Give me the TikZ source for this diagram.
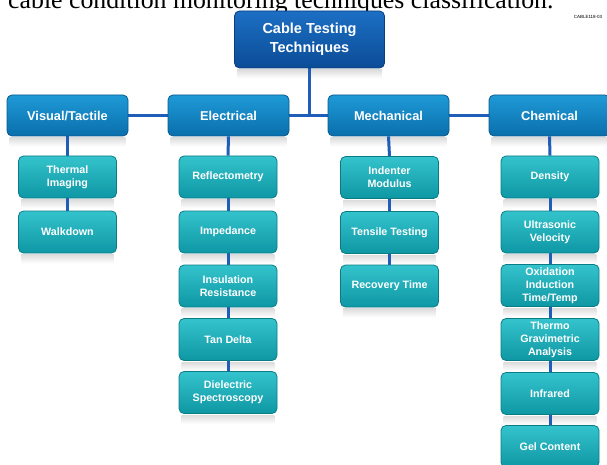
\documentclass[tikz,border=0pt]{standalone}
\usepackage{fontspec}
\setmainfont{Liberation Sans}
\newfontfamily\capfont{Liberation Serif}
\usetikzlibrary{backgrounds}
\definecolor{linkblue}{HTML}{1E5DB8}
\definecolor{topA}{HTML}{1C6FC4}
\definecolor{topB}{HTML}{0B4C96}
\definecolor{topD}{HTML}{0A3E7C}
\definecolor{catA}{HTML}{1E9AD6}
\definecolor{catB}{HTML}{0A6EAC}
\definecolor{catD}{HTML}{0A5A8C}
\definecolor{subA}{HTML}{34C3CC}
\definecolor{subB}{HTML}{0E97A4}
\definecolor{subD}{HTML}{0A7C86}
\begin{document}
\begin{tikzpicture}[x=1pt,y=-1pt,
  box/.style={rounded corners=5pt, line width=0.8pt, text=white, align=center, inner sep=0pt},
  topbox/.style={box, minimum width=150pt, minimum height=57pt, top color=topA, bottom color=topB, draw=topD, font=\fontsize{14.5}{18.5}\selectfont\bfseries},
  catbox/.style={box, minimum width=121pt, minimum height=41pt, top color=catA, bottom color=catB, draw=catD, font=\fontsize{12.8}{15}\selectfont\bfseries},
  subbox/.style={box, minimum width=98pt, minimum height=42pt, top color=subA, bottom color=subB, draw=subD, font=\fontsize{10.7}{12.8}\selectfont\bfseries},
  link/.style={draw=linkblue, line width=3pt},
  refl/.style={top color=black!13, bottom color=white, draw=none}]
\useasboundingbox (0,0) rectangle (607,465);
\begin{scope}
\clip (0,0) rectangle (607,465);
\node[anchor=base west, inner sep=0pt, font=\capfont\fontsize{25.8}{30}\selectfont] (cap) at (8,8.5) {cable condition monitoring techniques classification.};
\node[font=\fontsize{4.5}{5}\selectfont, inner sep=0pt] (code) at (588,17) {CABLE118-03};

\node[topbox] (top) at (309.5,39.5) {Cable Testing\\Techniques};

\node[catbox] (vis) at (67.5,115.5) {Visual/Tactile};
\node[catbox] (ele) at (228.5,115.5) {Electrical};
\node[catbox] (mec) at (388.5,115.5) {Mechanical};
\node[catbox] (che) at (549.5,115.5) {Chemical};

\node[subbox] (v1) at (67.5,177) {Thermal\\Imaging};
\node[subbox] (v2) at (67.5,232) {Walkdown};

\node[subbox] (e1) at (228,177) {Reflectometry};
\node[subbox] (e2) at (228,232) {Impedance};
\node[subbox] (e3) at (228,286) {Insulation\\Resistance};
\node[subbox] (e4) at (228,339.5) {Tan Delta};
\node[subbox] (e5) at (228,392.5) {Dielectric\\Spectroscopy};

\node[subbox] (m1) at (389.5,177.5) {Indenter\\Modulus};
\node[subbox] (m2) at (389.5,232.5) {Tensile Testing};
\node[subbox] (m3) at (389.5,286) {Recovery Time};

\node[subbox] (c1) at (550,177) {Density};
\node[subbox] (c2) at (550,232) {Ultrasonic\\Velocity};
\node[subbox] (c3) at (550,285.5) {Oxidation\\Induction\\Time/Temp};
\node[subbox] (c4) at (550,339.5) {Thermo\\Gravimetric\\Analysis};
\node[subbox] (c5) at (550,393.5) {Infrared};
\node[subbox] (c6) at (550,446.5) {Gel Content};

\begin{scope}[on background layer]
\foreach \n in {top,vis,ele,mec,che,v1,v2,e1,e2,e3,e4,e5,m1,m2,m3,c1,c2,c3,c4,c5,c6}{
  \shade[refl] ([xshift=3pt,yshift=-1.5pt]\n.south west) rectangle ([xshift=-3pt,yshift=-10pt]\n.south east);
}
\draw[link] (top.south) -- (top.south |- vis.east);
\draw[link] (vis.east) -- (ele.west);
\draw[link] (ele.east) -- (mec.west);
\draw[link] (mec.east) -- (che.west);
\draw[link] (vis.south) -- (v1.north);
\draw[link] (v1.south) -- (v2.north);
\draw[link] (ele.south) -- (e1.north);
\draw[link] (e1.south) -- (e2.north);
\draw[link] (e2.south) -- (e3.north);
\draw[link] (e3.south) -- (e4.north);
\draw[link] (e4.south) -- (e5.north);
\draw[link] (mec.south) -- (m1.north);
\draw[link] (m1.south) -- (m2.north);
\draw[link] (m2.south) -- (m3.north);
\draw[link] (che.south) -- (c1.north);
\draw[link] (c1.south) -- (c2.north);
\draw[link] (c2.south) -- (c3.north);
\draw[link] (c3.south) -- (c4.north);
\draw[link] (c4.south) -- (c5.north);
\draw[link] (c5.south) -- (c6.north);
\end{scope}
\end{scope}
\end{tikzpicture}
\end{document}
